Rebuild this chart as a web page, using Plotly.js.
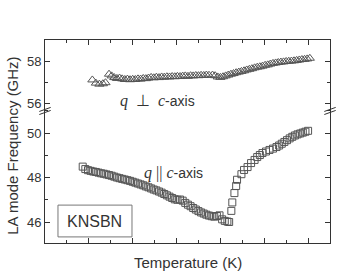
<!DOCTYPE html>
<html><head><meta charset="utf-8">
<script src="https://cdn.plot.ly/plotly-3.0.1.min.js"></script>
<style>html,body{margin:0;padding:0;background:#fff;}#plot{width:337px;height:272px;}</style>
</head><body><div id="plot"></div>
<script>
// q ⊥ c-axis (upper panel, triangles)
const tPerp = [304,308,312,316,319,323,326,329,332,335,338,341,344,347,350,353,356,359,362,365,368,371,374,377,380,383,386,389,392,395,398,401,404,407,410,413,416,419,422,425,428,431,434,437,441,444,447,450,453,456,459,462,465,468,471,474,477,480,483,486,489,492,495,498,501,504,507,510,513,516,519,522,525,528,531,534,537,540,543,546,549,552];
const fPerp = [57.13,56.98,56.93,56.95,57.00,57.40,57.32,57.24,57.20,57.22,57.18,57.15,57.17,57.14,57.16,57.15,57.18,57.17,57.20,57.19,57.22,57.25,57.23,57.26,57.24,57.27,57.26,57.28,57.27,57.29,57.28,57.30,57.29,57.31,57.32,57.30,57.33,57.32,57.34,57.33,57.35,57.34,57.36,57.35,57.36,57.33,57.27,57.25,57.28,57.32,57.36,57.40,57.43,57.47,57.50,57.53,57.56,57.60,57.63,57.66,57.70,57.73,57.75,57.78,57.82,57.84,57.88,57.91,57.93,57.95,57.97,57.98,58.00,58.01,58.02,58.03,58.05,58.07,58.09,58.10,58.12,58.15];
// q || c-axis (lower panel, squares)
const tPar = [293,296,299,302,305,308,311,314,317,320,323,326,329,332,335,338,341,344,347,350,353,356,359,362,365,368,371,374,377,380,383,386,389,392,395,398,401,404,407,410,413,416,419,422,425,428,431,434,437,440,443,446,449,452,455,458,460,462.5,463.6,466,468,469,474,477,481,485,489,492,495,498,502,506,510,514,517,520,523,526,529,532,535,538,541,544,547,550];
const fPar = [48.49,48.38,48.33,48.30,48.27,48.25,48.22,48.19,48.17,48.14,48.11,48.08,48.04,48.00,47.97,47.94,47.91,47.88,47.85,47.81,47.77,47.73,47.69,47.65,47.60,47.56,47.51,47.46,47.42,47.37,47.32,47.26,47.20,47.14,47.08,47.02,47.00,47.01,46.96,46.86,46.78,46.71,46.63,46.56,46.49,46.43,46.38,46.33,46.29,46.26,46.24,46.27,46.30,46.12,46.05,46.02,46.00,46.50,46.88,47.30,47.62,47.90,48.15,48.34,48.47,48.65,48.79,48.92,49.01,49.10,49.17,49.24,49.30,49.37,49.44,49.52,49.60,49.68,49.76,49.83,49.89,49.94,49.98,50.02,50.06,50.10];
const yTicksLow = [46,48,50];
const yTicksUp = [56,58];

const axc = '#333';
const fnt = {family:'Arial, "Liberation Sans", sans-serif', size:13, color:'#333'};
const mk = (sym,size)=>({symbol:sym,size:size,color:'#555',line:{color:'#555',width:1}});

const data = [
 {x:tPar,y:fPar,type:'scatter',mode:'markers',marker:mk('square-open',7),xaxis:'x',yaxis:'y',hoverinfo:'skip'},
 {x:tPerp,y:fPerp,type:'scatter',mode:'markers',marker:mk('triangle-up-open',8),xaxis:'x2',yaxis:'y2',hoverinfo:'skip'}
];
const xBase = {range:[250,575],tick0:250,dtick:50,ticks:'inside',ticklen:5,tickcolor:axc,showticklabels:false,
  showgrid:false,zeroline:false,showline:true,linecolor:axc,linewidth:1,
  minor:{dtick:25,tick0:250,ticks:'inside',ticklen:3,tickcolor:axc,showgrid:false}};
const yBase = {ticks:'inside',ticklen:5,tickcolor:axc,showgrid:false,zeroline:false,showline:true,linecolor:axc,linewidth:1,
  mirror:'ticks',tickfont:fnt,tickmode:'array'};

function brk(xp){
  return [
    {type:'path',xref:'paper',yref:'paper',path:`M ${xp-0.02} ${0.66-0.012} L ${xp+0.02} ${0.66+0.008}`,line:{color:axc,width:1}},
    {type:'path',xref:'paper',yref:'paper',path:`M ${xp-0.02} ${0.66-0.027} L ${xp+0.02} ${0.66-0.007}`,line:{color:axc,width:1}}
  ];
}

const layout = {
  width:337,height:272,margin:{l:45,r:7,t:40,b:29},
  paper_bgcolor:'#fff',plot_bgcolor:'rgba(0,0,0,0)',showlegend:false,font:fnt,
  xaxis:Object.assign({},xBase,{anchor:'y',domain:[0,1]}),
  xaxis2:Object.assign({},xBase,{anchor:'y2',side:'top',matches:'x'}),
  yaxis:Object.assign({},yBase,{domain:[0,0.66],range:[45.056,51.08],tickvals:yTicksLow,
    minor:{dtick:1,tick0:45,ticks:'inside',ticklen:3,tickcolor:axc,showgrid:false}}),
  yaxis2:Object.assign({},yBase,{domain:[0.66,1],range:[55.76,59.01],tickvals:yTicksUp,
    minor:{dtick:1,tick0:55,ticks:'inside',ticklen:3,tickcolor:axc,showgrid:false}}),
  annotations:[
    {xref:'paper',yref:'paper',x:-0.115,y:0.48,text:'LA mode Frequency (GHz)',textangle:-90,showarrow:false,
      font:{family:fnt.family,size:15,color:'#333'},xanchor:'center',yanchor:'middle'},
    {xref:'paper',yref:'paper',x:0.5,y:-0.098,text:'Temperature (K)',showarrow:false,
      font:{family:fnt.family,size:15,color:'#333'},xanchor:'center',yanchor:'middle'},
    {xref:'x2',yref:'y2',x:378,y:56.14,showarrow:false,xanchor:'center',yanchor:'middle',
      text:'<span style="font-family:\'Liberation Serif\',serif;font-size:16px"><i>q</i>  ⊥  <i>c</i></span>-axis',font:{family:fnt.family,size:14,color:'#333'}},
    {xref:'x',yref:'y',x:396,y:48.2,showarrow:false,xanchor:'center',yanchor:'middle',
      text:'<span style="font-family:\'Liberation Serif\',serif;font-size:16px"><i>q</i> || <i>c</i></span>-axis',font:{family:fnt.family,size:14,color:'#333'}},
    {xref:'x',yref:'y',x:307,y:46.04,showarrow:false,xanchor:'center',yanchor:'middle',
      text:'KNSBN',font:{family:fnt.family,size:16,color:'#333'}}
  ],
  shapes:[
    {type:'rect',xref:'x',yref:'y',x0:264.8,x1:349.2,y0:45.33,y1:46.76,line:{color:'#777',width:1},fillcolor:'rgba(0,0,0,0)'}
  ].concat(brk(0)).concat(brk(1))
};
Plotly.newPlot('plot',data,layout,{staticPlot:true,displayModeBar:false});
</script></body></html>
